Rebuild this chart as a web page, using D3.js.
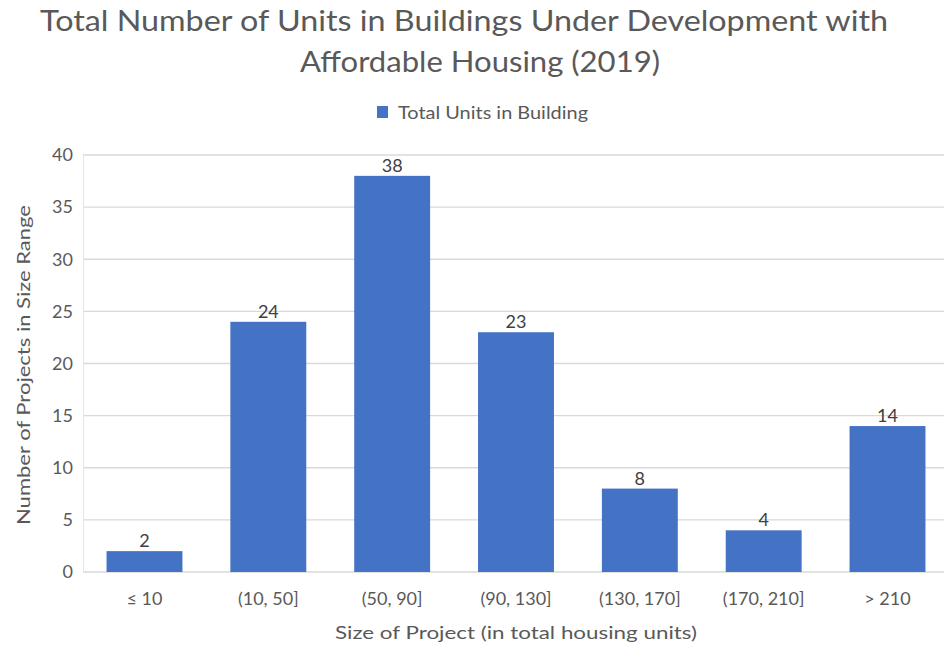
<!DOCTYPE html>
<html><head><meta charset="utf-8">
<script src="https://cdn.jsdelivr.net/npm/d3@7"></script>
<style>body{margin:0;background:#fff}svg{display:block}</style>
</head><body>
<script>
const categories = ["≤ 10", "(10, 50]", "(50, 90]", "(90, 130]", "(130, 170]", "(170, 210]", "> 210"];
const values = [2, 24, 38, 23, 8, 4, 14];
const yTicks = [0, 5, 10, 15, 20, 25, 30, 35, 40];
const seriesName = "Total Units in Building";
const titleLines = ["Total Number of Units in Buildings Under Development with", "Affordable Housing (2019)"];
const xTitle = "Size of Project (in total housing units)";
const yTitle = "Number of Projects in Size Range";

const W = 944, H = 648;
const font = "Lato, 'Open Sans', sans-serif";
const svg = d3.select("body").append("svg").attr("width", W).attr("height", H).style("font-family", font);

const x = d3.scaleBand().domain(categories).range([83, 949]).paddingInner(0.387).paddingOuter(0.19);
const y = d3.scaleLinear().domain([0, 40]).range([572, 155]);

// gridlines
svg.append("g").selectAll("line").data(yTicks).join("line")
  .attr("x1", 83).attr("x2", W).attr("y1", d => y(d)).attr("y2", d => y(d))
  .attr("stroke", "#d9d9d9").attr("stroke-width", 1.3);
svg.append("line").attr("x1", 83.5).attr("x2", 83.5).attr("y1", y(40)).attr("y2", y(0)).attr("stroke", "#e6e6e6");

// y axis labels
const yAxis = svg.append("g").attr("transform", "translate(73,0)")
  .call(d3.axisLeft(y).tickValues(yTicks).tickSize(0).tickPadding(0));
yAxis.select(".domain").remove();
yAxis.selectAll("text").attr("font-size", 18).attr("fill", "#595959").style("font-family", font);

// x axis labels
const xAxis = svg.append("g").attr("transform", `translate(0,${y(0)})`)
  .call(d3.axisBottom(x).tickSize(0).tickPadding(20));
xAxis.select(".domain").remove();
xAxis.selectAll("text").attr("font-size", 18).attr("fill", "#595959").style("font-family", font);

// bars
svg.append("g").selectAll("rect").data(values).join("rect")
  .attr("x", (d, i) => x(categories[i])).attr("width", x.bandwidth())
  .attr("y", d => y(d)).attr("height", d => y(0) - y(d))
  .attr("fill", "#4472c4");

// data labels
svg.append("g").selectAll("text").data(values).join("text")
  .attr("x", (d, i) => x(categories[i]) + x.bandwidth() / 2)
  .attr("y", d => y(d) - 4)
  .attr("text-anchor", "middle").attr("font-size", 18).attr("fill", "#404040")
  .text(d => d);

// title
svg.append("text").attr("x", 464).attr("y", 31).attr("text-anchor", "middle")
  .attr("font-size", 28).attr("fill", "#595959")
  .attr("textLength", 848).attr("lengthAdjust", "spacingAndGlyphs").text(titleLines[0]);
svg.append("text").attr("x", 480).attr("y", 72).attr("text-anchor", "middle")
  .attr("font-size", 28).attr("fill", "#595959")
  .attr("textLength", 360).attr("lengthAdjust", "spacingAndGlyphs").text(titleLines[1]);

// legend
svg.append("rect").attr("x", 377).attr("y", 106).attr("width", 11).attr("height", 12).attr("fill", "#4472c4");
svg.append("text").attr("x", 398).attr("y", 119).attr("font-size", 17).attr("fill", "#595959")
  .attr("textLength", 190).attr("lengthAdjust", "spacingAndGlyphs").text(seriesName);

// axis titles
svg.append("text").attr("x", 516).attr("y", 639).attr("text-anchor", "middle")
  .attr("font-size", 18).attr("fill", "#595959")
  .attr("textLength", 362).attr("lengthAdjust", "spacingAndGlyphs").text(xTitle);
svg.append("text").attr("transform", "translate(30,365) rotate(-90)").attr("text-anchor", "middle")
  .attr("font-size", 18).attr("fill", "#595959")
  .attr("textLength", 320).attr("lengthAdjust", "spacingAndGlyphs").text(yTitle);
</script>
</body></html>
